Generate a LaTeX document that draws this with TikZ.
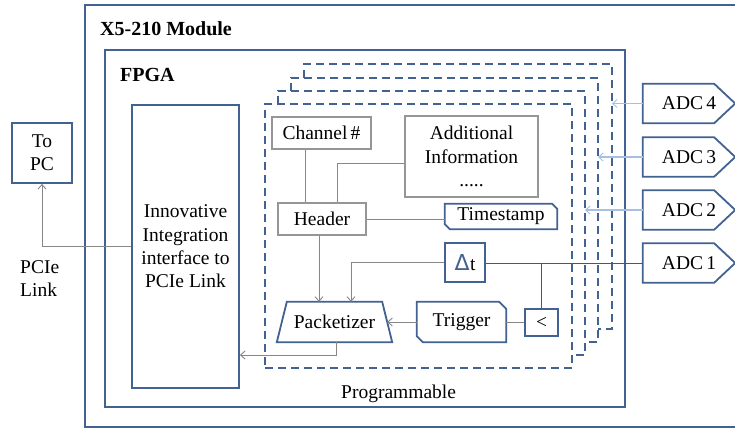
\documentclass[tikz,border=0pt]{standalone}
\usepackage{fontspec}
\setmainfont{Liberation Serif}
\newfontfamily\deltafont{DejaVu Sans}
\usetikzlibrary{arrows.meta,calc}
\definecolor{boxblue}{RGB}{66,98,146}
\definecolor{boxgray}{RGB}{150,150,150}
\definecolor{linegray}{RGB}{135,135,135}
\definecolor{adcline}{RGB}{85,85,85}
\definecolor{adcarrow}{RGB}{165,192,225}
\begin{document}
\begin{tikzpicture}[x=1pt,y=-1pt,
  font=\fontsize{19.5}{23.3}\selectfont,
  bluebox/.style={draw=boxblue,line width=1.8pt,rectangle,inner sep=0pt,align=center},
  graybox/.style={draw=boxgray,line width=1.3pt,rectangle,inner sep=0pt,align=center},
  plain/.style={rectangle,inner sep=0pt,align=center},
  blueline/.style={draw=boxblue,line width=1.8pt,line join=miter},
  conn/.style={draw=linegray,line width=1pt},
  darkconn/.style={draw=adcline,line width=1pt},
  tip/.style={-{Straight Barb[length=4.5pt,width=8pt,line width=0.9pt]}},
  dashbox/.style={draw=boxblue,line width=1.8pt,dash pattern=on 8pt off 5pt},
  adcin/.style={draw=adcarrow,line width=1.4pt,tip},
  boldlabel/.style={font=\fontsize{20}{24}\selectfont\bfseries,inner sep=0pt}
]
\useasboundingbox (0,0) rectangle (735,429);
\fill[white] (0,0) rectangle (735,429);

% outer boxes
\node[bluebox,minimum width=660pt,minimum height=422pt] (module) at (415,216) {};
\node[bluebox,minimum width=520pt,minimum height=357pt] (fpga) at (365,228.5) {};
\node[boldlabel,anchor=base west] (modlabel) at (100,35) {X5-210 Module};
\node[boldlabel,anchor=base west] (fpgalabel) at (120,81) {FPGA};

% stacked programmable regions (back copies)
\coordinate (b3r) at (612,64);
\coordinate (b2r) at (598,78);
\coordinate (b1r) at (585,91);
\draw[dashbox] (304,78) -- (304,64) -- (612,64) -- (612,329) -- (598,329);
\draw[dashbox] (291,91) -- (291,78) -- (598,78) -- (598,342) -- (585,342);
\draw[dashbox] (278,104) -- (278,91) -- (585,91) -- (585,355) -- (572,355);
\node[plain,dashbox,minimum width=307pt,minimum height=264pt] (prog) at (418.5,236) {};
\node[plain,anchor=base west] (proglabel) at (341,398) {Programmable};

% interface and PC
\node[bluebox,minimum width=107pt,minimum height=283pt] (iface) at (185.5,246.5)
  {Innovative\\Integration\\interface to\\PCIe Link};
\node[bluebox,minimum width=60pt,minimum height=60pt] (topc) at (42,153) {To\\PC};
\node[plain,anchor=base west] (pcie1) at (20,273) {PCIe};
\node[plain,anchor=base west] (pcie2) at (20,296) {Link};

% inner blocks
\node[graybox,minimum width=99pt,minimum height=32pt] (chan) at (321.5,133) {Channel\,\#};
\node[graybox,minimum width=133pt,minimum height=81pt] (addinfo) at (471.5,156.5)
  {Additional\\Information\\.....};
\node[graybox,minimum width=88pt,minimum height=32pt] (header) at (322,219) {Header};
\node[plain,minimum width=112pt,minimum height=25pt] (tstamp) at (501,216.5) {Timestamp};
\draw[blueline] (tstamp.north west) -- ([xshift=-5pt]tstamp.north east) -- ([yshift=-5pt]tstamp.north east)
  -- (tstamp.south east) -- ([xshift=5pt]tstamp.south west) -- ([yshift=5pt]tstamp.south west) -- cycle;
\node[bluebox,minimum width=40pt,minimum height=39pt] (dt) at (465,262.5)
  {{\deltafont\fontsize{22}{24}\selectfont\color{boxblue}Δ}\kern0.5pt t};
\node[bluebox,minimum width=33pt,minimum height=27pt] (lt) at (541.5,322.5) {<};
\node[plain,minimum width=89pt,minimum height=40pt] (trig) at (461.5,322) {Trigger};
\draw[blueline] (trig.north west) -- ([xshift=-7pt]trig.north east) -- ([yshift=-7pt]trig.north east)
  -- (trig.south east) -- ([xshift=6pt]trig.south west) -- ([yshift=6pt]trig.south west) -- cycle;
\node[plain,minimum width=115pt,minimum height=40pt] (pack) at (334.5,322) {Packetizer};
\draw[blueline] ([xshift=10pt]pack.north west) -- ([xshift=-10pt]pack.north east)
  -- (pack.south east) -- (pack.south west) -- cycle;

% ADC blocks
\foreach \n/\y in {4/103.5,3/157,2/210,1/263}{
  \node[plain,minimum width=92pt,minimum height=39pt] (adc\n) at (689,\y) {ADC\,\n};
  \draw[blueline] (adc\n.north west) -- ([xshift=-21pt]adc\n.north east) -- (adc\n.east)
    -- ([xshift=-21pt]adc\n.south east) -- (adc\n.south west) -- cycle;
}

% connectors
\draw[conn,tip] (iface.west) -| (topc.south);
\draw[conn] ([xshift=-16.5pt]chan.south) -- ([xshift=-16.5pt]chan.south |- header.north);
\draw[conn] ([yshift=-6.5pt]addinfo.west) -| ([xshift=15pt]header.north);
\draw[conn] (header.east) -- (header.east -| tstamp.west);
\draw[conn,tip] ([xshift=-3pt]header.south) -- ([xshift=-3pt]header.south |- pack.north);
\draw[conn,tip] (dt.west) -| ([xshift=16.5pt]pack.north);
\draw[darkconn] (adc1.west) -- (adc1.west -| dt.east);
\coordinate (junc) at (lt.north |- dt.east);
\draw[darkconn] (junc) -- (lt.north);
\draw[conn] (lt.west) -- (lt.west -| trig.east);
\draw[conn,tip] (trig.west) -- ([xshift=-5pt]pack.east);
\draw[conn,tip] ([xshift=1.5pt]pack.south) |- ([yshift=-108.5pt]iface.east);
\draw[adcin] (adc4.west) -- (adc4.west -| b3r);
\draw[adcin] (adc3.west) -- (adc3.west -| b2r);
\draw[adcin] (adc2.west) -- (adc2.west -| b1r);
\end{tikzpicture}
\end{document}
